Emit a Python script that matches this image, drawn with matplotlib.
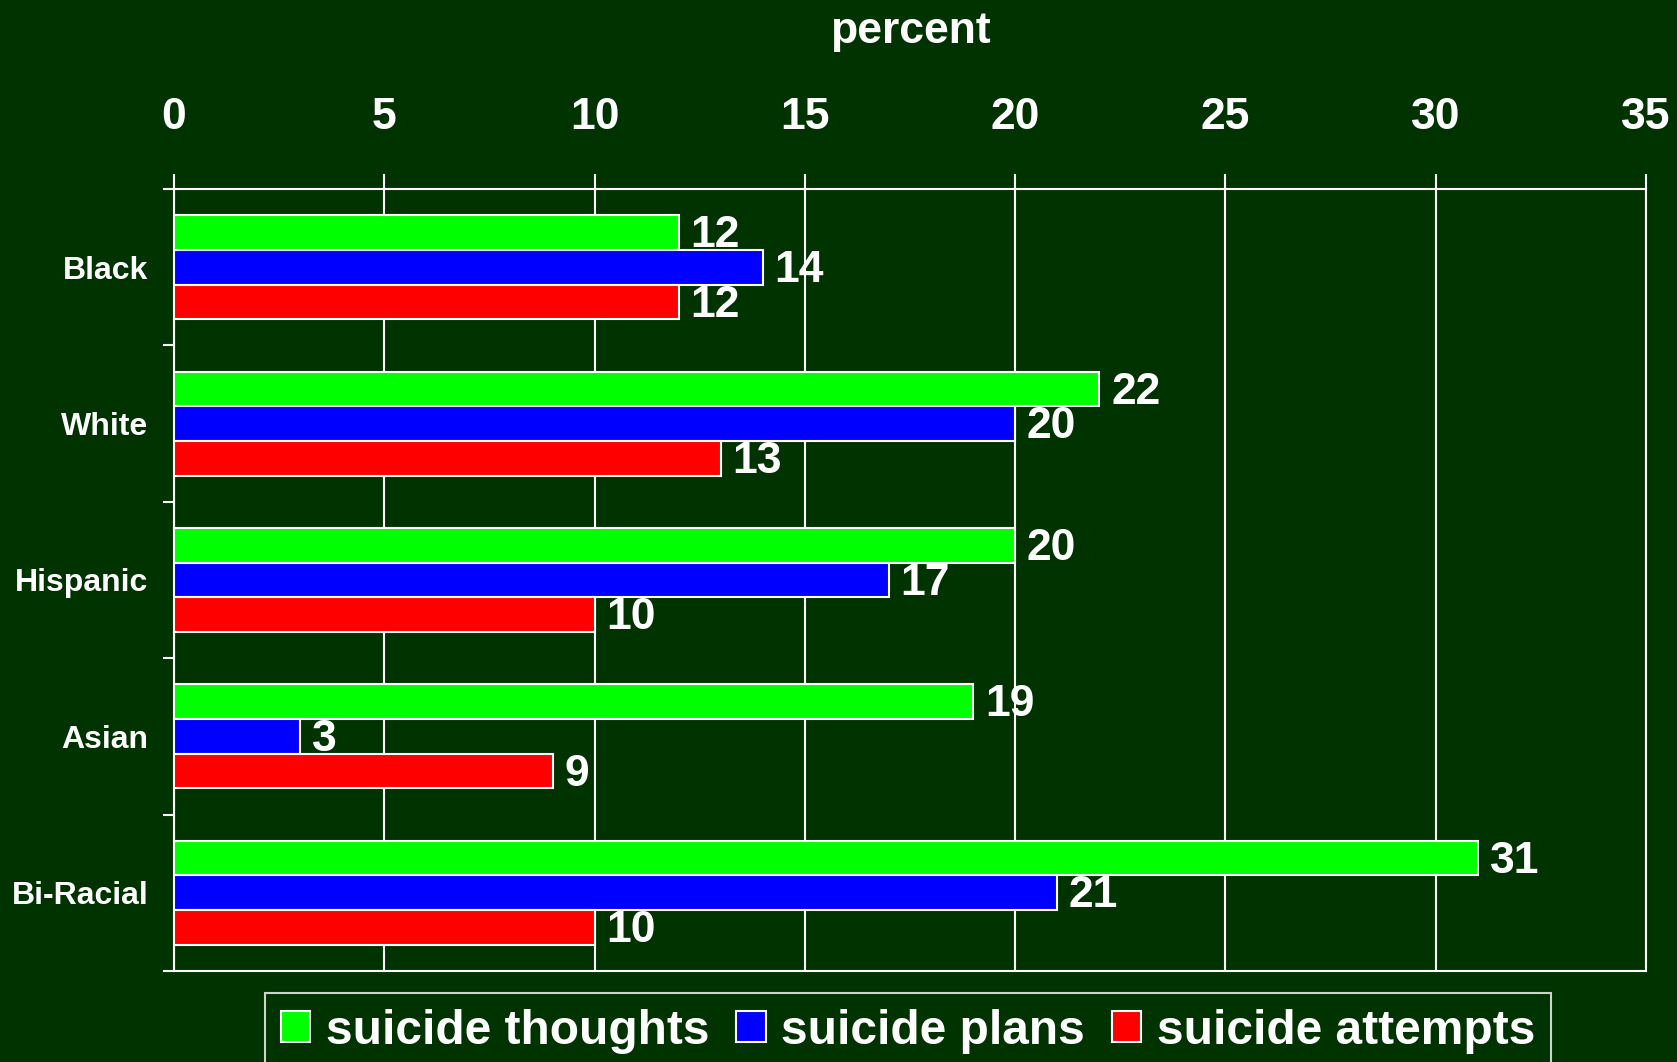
import matplotlib
matplotlib.use("Agg")
import matplotlib.pyplot as plt
import numpy as np

categories = ["Black", "White", "Hispanic", "Asian", "Bi-Racial"]
series_names = ["suicide thoughts", "suicide plans", "suicide attempts"]
thoughts = [12, 22, 20, 19, 31]
plans = [14, 20, 17, 3, 21]
attempts = [12, 13, 10, 9, 10]
xticks = [0, 5, 10, 15, 20, 25, 30, 35]

BG = "#003300"
colors = ["#00ff00", "#0000ff", "#ff0000"]

plt.rcParams['font.family'] = ['Liberation Sans', 'DejaVu Sans']
plt.rcParams['font.weight'] = 'bold'

W, H = 1677, 1062
fig = plt.figure(figsize=(W / 100, H / 100), dpi=100, facecolor=BG)
ax = fig.add_axes([174 / W, 1 - 971 / H, (1646 - 174) / W, (971 - 189) / H], facecolor=BG)

y = np.arange(len(categories))
bh = 0.222
data = [thoughts, plans, attempts]
offsets = [-bh, 0, bh]
for vals, off, col, name in zip(data, offsets, colors, series_names):
    bars = ax.barh(y + off, vals, height=bh, color=col, edgecolor="white",
                   linewidth=1.5, label=name, zorder=3)
    for b, v in zip(bars, vals):
        ax.text(b.get_width() + 0.28, b.get_y() + b.get_height() / 2 + 0.02, str(v),
                color="white", fontsize=32, fontweight="bold",
                va="center", ha="left", zorder=4)

ax.set_xlim(0, 35)
ax.set_ylim(len(categories) - 0.5, -0.5)
ax.set_xticks(xticks)
ax.set_xticklabels([str(t) for t in xticks], fontsize=32, fontweight="bold", color="white")
ax.xaxis.tick_top()
ax.tick_params(axis="x", which="major", direction="out", length=11, width=1.5,
               color="white", pad=25.5)
ax.set_yticks(y)
ax.set_yticklabels(categories, fontsize=23, fontweight="bold", color="white")
ax.set_yticks(np.arange(-0.5, len(categories), 1.0), minor=True)
ax.tick_params(axis="y", which="major", length=0, pad=18.6)
ax.tick_params(axis="y", which="minor", direction="out", length=8, width=1.5, color="white")

ax.grid(axis="x", color="white", linewidth=1.5, zorder=0)
ax.set_axisbelow(True)
for s in ax.spines.values():
    s.set_color("white")
    s.set_linewidth(1.5)

fig.text(910 / W, 1 - 32 / H, "percent", ha="center", va="center",
         fontsize=32, fontweight="bold", color="white")

leg = fig.legend(loc="upper center", bbox_to_anchor=(908 / W, 1 - 993 / H),
                 ncol=3, frameon=True, fontsize=34.5, handlelength=0.62,
                 handleheight=0.62, handletextpad=0.33, columnspacing=0.55,
                 borderpad=0.33, borderaxespad=0, fancybox=False)
leg.get_frame().set_facecolor(BG)
leg.get_frame().set_edgecolor("white")
leg.get_frame().set_linewidth(1.5)
for t in leg.get_texts():
    t.set_color("white")
    t.set_fontweight("bold")

fig.savefig("out.png", dpi=100, facecolor=BG)
